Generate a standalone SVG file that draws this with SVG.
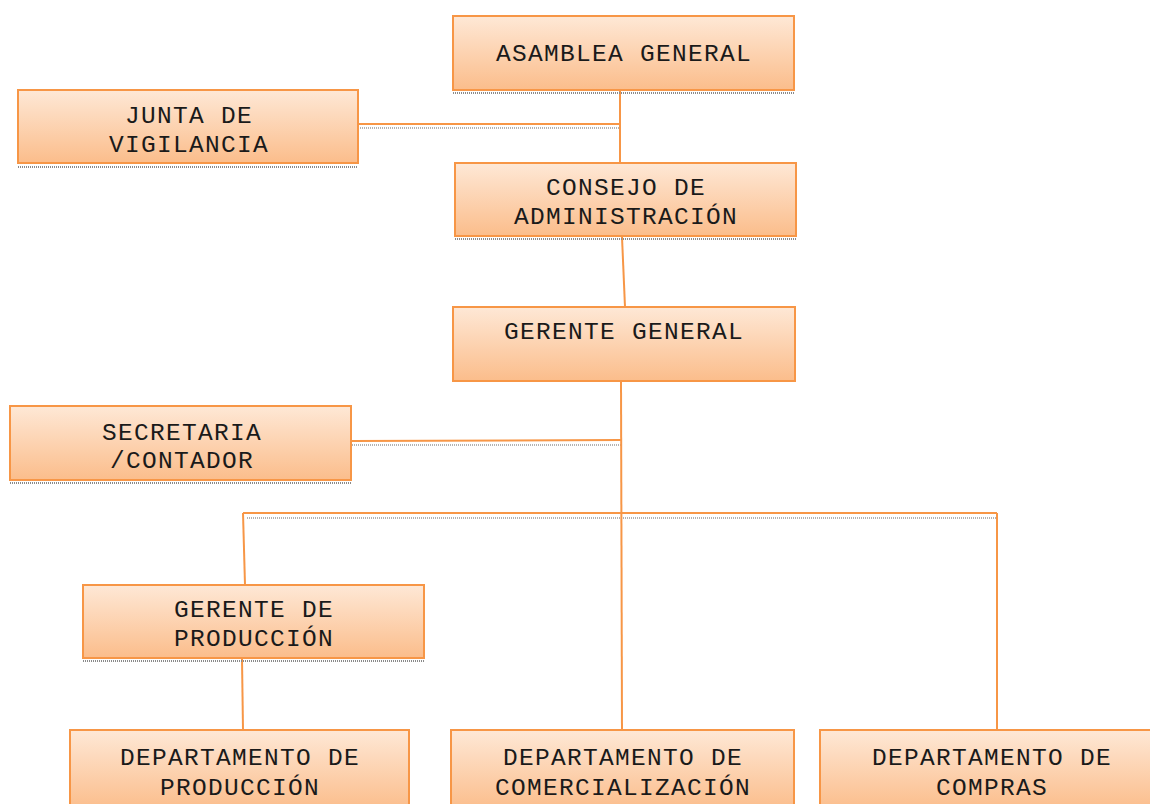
<svg xmlns="http://www.w3.org/2000/svg" width="1150" height="804" viewBox="0 0 1150 804">
<defs>
<linearGradient id="g" x1="0" y1="0" x2="0" y2="1">
<stop offset="0" stop-color="#fee8d6"/>
<stop offset="1" stop-color="#fbbd8b"/>
</linearGradient>
<style>
.box{fill:url(#g);stroke:#f79646;stroke-width:2}
.sh{stroke:#8a8a8a;stroke-width:2;stroke-dasharray:1 1;fill:none}
.cn{stroke:#f79646;stroke-width:2;fill:none}
.cs{stroke:#9a9a9a;stroke-width:1.5;stroke-dasharray:1 1;fill:none}
text{font-family:"Liberation Mono","Courier New",monospace;font-size:24.5px;letter-spacing:1.3px;fill:#1a1a1a;text-anchor:middle}
</style>
</defs>
<rect width="1150" height="804" fill="#ffffff"/>
<g id="connectors">
<line class="cs" x1="358" y1="128" x2="620" y2="128"/>
<line class="cs" x1="352" y1="445" x2="621" y2="445"/>
<line class="cs" x1="247" y1="518" x2="996" y2="518"/>
<line class="cn" x1="620" y1="90" x2="620" y2="163"/>
<line class="cn" x1="355" y1="124" x2="620" y2="124"/>
<line class="cn" x1="622" y1="237" x2="625" y2="307"/>
<line class="cn" x1="621" y1="381" x2="622" y2="730"/>
<line class="cn" x1="351" y1="441" x2="621" y2="440"/>
<line class="cn" x1="243" y1="513" x2="997" y2="513"/>
<line class="cn" x1="243" y1="513" x2="245" y2="585"/>
<line class="cn" x1="997" y1="513" x2="997" y2="730"/>
<line class="cn" x1="242" y1="659" x2="243" y2="730"/>
</g>
<g id="asamblea">
<rect class="box" x="453" y="16" width="341" height="74"/>
<line class="sh" x1="453" y1="93" x2="794" y2="93"/>
<text x="624" y="61">ASAMBLEA GENERAL</text>
</g>
<g id="junta">
<rect class="box" x="18" y="90" width="340" height="73"/>
<line class="sh" x1="18" y1="167" x2="358" y2="167"/>
<text x="189" y="123">JUNTA DE</text>
<text x="189" y="152">VIGILANCIA</text>
</g>
<g id="consejo">
<rect class="box" x="455" y="163" width="341" height="73"/>
<line class="sh" x1="455" y1="239" x2="796" y2="239"/>
<text x="626" y="195">CONSEJO DE</text>
<text x="626" y="224">ADMINISTRACIÓN</text>
</g>
<g id="gerente-general">
<rect class="box" x="453" y="307" width="342" height="74"/>
<text x="624" y="339">GERENTE GENERAL</text>
</g>
<g id="secretaria">
<rect class="box" x="10" y="406" width="341" height="74"/>
<line class="sh" x1="10" y1="483" x2="351" y2="483"/>
<text x="182" y="440">SECRETARIA</text>
<text x="182" y="468">/CONTADOR</text>
</g>
<g id="gerente-produccion">
<rect class="box" x="83" y="585" width="341" height="73"/>
<line class="sh" x1="83" y1="661" x2="424" y2="661"/>
<text x="254" y="617">GERENTE DE</text>
<text x="254" y="646">PRODUCCIÓN</text>
</g>
<g id="dep-produccion">
<rect class="box" x="70" y="730" width="339" height="80"/>
<text x="240" y="765">DEPARTAMENTO DE</text>
<text x="240" y="795">PRODUCCIÓN</text>
</g>
<g id="dep-comercializacion">
<rect class="box" x="451" y="730" width="343" height="80"/>
<text x="623" y="765">DEPARTAMENTO DE</text>
<text x="623" y="795">COMERCIALIZACIÓN</text>
</g>
<g id="dep-compras">
<rect class="box" x="820" y="730" width="345" height="80"/>
<text x="992" y="765">DEPARTAMENTO DE</text>
<text x="992" y="795">COMPRAS</text>
</g>
</svg>
